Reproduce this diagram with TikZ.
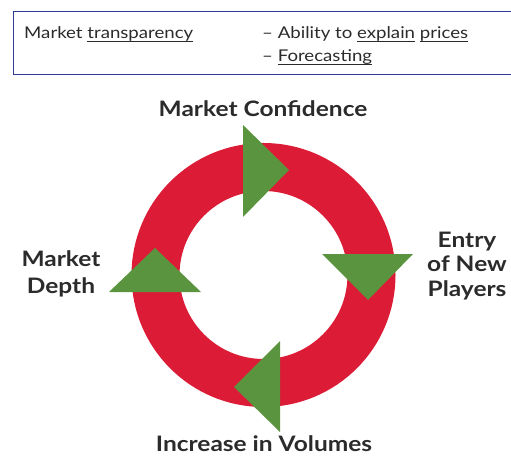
\documentclass[tikz,border=0pt]{standalone}
\usepackage{fontspec}
\setmainfont{Lato}[FakeStretch=1.15]
\definecolor{ringred}{HTML}{DC1C36}
\definecolor{arrgreen}{HTML}{5A943E}
\definecolor{boxblue}{HTML}{2E3A94}
\definecolor{txtgray}{HTML}{2B2B2B}
\newcommand{\ulx}[1]{\setbox0\hbox{#1}\rlap{\rule[-2.6pt]{\wd0}{0.6pt}}\box0\relax}
\tikzset{
  lbl/.style={font=\bfseries\fontsize{21.3}{24.5}\selectfont, text=txtgray, align=center, inner sep=0pt},
  boxtxt/.style={font=\fontsize{16.2}{23}\selectfont, text=txtgray, anchor=base west, inner sep=0pt},
}
\begin{document}
\begin{tikzpicture}[x=1pt,y=-1pt]
\useasboundingbox (0,0) rectangle (511,457);
% top box
\draw[boxblue, line width=0.9pt] (530,11) -- (13,11) -- (13,74) -- (530,74);
\node[boxtxt] (mt) at (24,39) {Market \ulx{transparency}};
\node[boxtxt] (ab) at (262,39) {– Ability to \ulx{explain} \ulx{prices}};
\node[boxtxt] (fc) at (262,62) {– \ulx{Forecasting}};
% ring
\coordinate (c) at (263.5,275);
\draw[ringred, line width=48pt] (c) circle[radius=108];
% triangles
\fill[arrgreen] (243,125) -- (243,217) -- (289,170) -- cycle;
\fill[arrgreen] (322,254) -- (413,254) -- (368,300) -- cycle;
\fill[arrgreen] (280,341) -- (280,432) -- (234,387) -- cycle;
\fill[arrgreen] (109,292) -- (201,292) -- (155,248) -- cycle;
% labels
\node[lbl, anchor=base] (conf) at (263,116.5) {Market Confidence};
\node[lbl] (entry) at (467,266) {Entry\\of New\\Players};
\node[lbl, font=\bfseries\fontsize{21.3}{27}\selectfont] (depth) at (61,274) {Market\\Depth};
\node[lbl, anchor=base] (vol) at (264,451.5) {Increase in Volumes};
\end{tikzpicture}
\end{document}
